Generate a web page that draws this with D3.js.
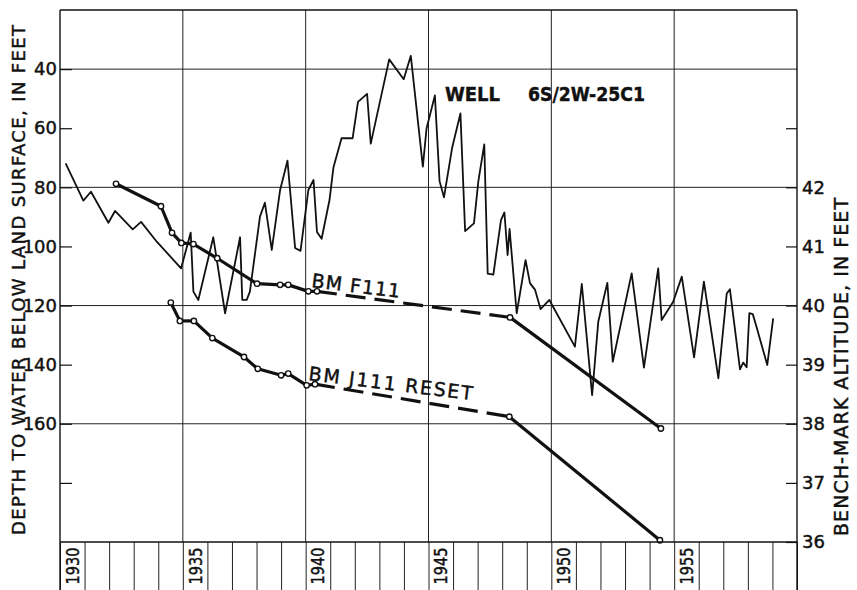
<!DOCTYPE html>
<html>
<head>
<meta charset="utf-8">
<script src="https://cdn.jsdelivr.net/npm/d3@7"></script>
<style>
  html, body { margin: 0; padding: 0; background: #fff; }
  svg { display: block; }
  text { font-family: "DejaVu Sans", "Liberation Sans", sans-serif; fill: #111; stroke: #111; stroke-width: 0.45; }
</style>
</head>
<body>
<svg id="chart" width="857" height="590"></svg>
<script>
// Well 6S/2W-25C1: decimal year and depth to water below land surface (feet)
const wellYears = [
  1930.23, 1930.95, 1931.26, 1931.97, 1932.24, 1932.96, 1933.30, 1933.94, 1934.93,
  1935.32, 1935.43, 1935.63, 1936.24, 1936.72, 1937.33, 1937.42, 1937.60, 1937.73,
  1938.14, 1938.34, 1938.62, 1938.96, 1939.26, 1939.57, 1939.79, 1940.11, 1940.32,
  1940.46, 1940.65, 1940.97, 1941.13, 1941.46, 1941.91, 1942.13, 1942.50, 1942.65,
  1943.40, 1943.99, 1944.28, 1944.77, 1944.92, 1945.26, 1945.45, 1945.63, 1945.96,
  1946.30, 1946.49, 1946.85, 1947.03, 1947.27, 1947.41, 1947.64, 1947.95, 1948.09,
  1948.22, 1948.30, 1948.59, 1948.95, 1949.13, 1949.34, 1949.56, 1949.92, 1950.07,
  1950.96, 1951.24, 1951.66, 1951.91, 1952.28, 1952.50, 1953.27, 1953.77, 1954.35,
  1954.49, 1954.96, 1955.31, 1955.81, 1956.21, 1956.80, 1957.14, 1957.27, 1957.68,
  1957.81, 1957.95, 1958.06, 1958.20, 1958.33, 1958.79, 1959.03
];
const wellDepths = [
  71.9, 84.5, 81.5, 92.0, 88.0, 94.2, 91.7, 98.4, 107.4,
  95.3, 115.3, 118.1, 96.9, 122.6, 96.9, 118.1, 118.1, 115.3,
  89.9, 85.2, 101.2, 80.9, 71.0, 100.5, 101.5, 80.9, 77.5,
  95.1, 97.4, 84.3, 73.3, 63.4, 63.4, 51.1, 48.4, 65.2,
  36.7, 43.4, 35.5, 73.0, 60.1, 48.9, 77.9, 83.4, 66.7,
  55.0, 94.8, 92.2, 77.9, 65.5, 109.2, 109.5, 91.1, 88.5,
  102.9, 94.1, 122.6, 104.6, 112.4, 114.7, 121.2, 118.1, 120.4,
  133.9, 112.7, 150.3, 125.5, 112.3, 139.0, 109.1, 141.0, 107.4,
  124.9, 118.7, 110.2, 137.5, 111.9, 144.6, 115.9, 114.5, 141.6,
  139.3, 140.9, 122.6, 122.9, 126.6, 140.1, 124.3
];

// Bench mark F111: survey dates, altitude (feet), and which links are dashed
const bmF111Years  = [1932.28, 1934.11, 1934.56, 1934.94, 1935.43, 1936.40, 1938.02, 1938.96, 1939.29, 1940.11, 1940.46, 1948.32, 1954.46];
const bmF111Alt    = [42.06, 41.68, 41.23, 41.06, 41.04, 40.80, 40.37, 40.35, 40.35, 40.24, 40.24, 39.80, 37.92];
const bmF111Dashed = [false, false, false, false, false, false, false, false, false, false, true, false];

// Bench mark J111 reset: survey dates, altitude (feet), and which links are dashed
const bmJ111Years  = [1934.51, 1934.88, 1935.45, 1936.20, 1937.49, 1938.05, 1939.00, 1939.29, 1940.04, 1940.38, 1948.29, 1954.42];
const bmJ111Alt    = [40.05, 39.74, 39.74, 39.45, 39.13, 38.93, 38.82, 38.85, 38.65, 38.67, 38.12, 36.03];
const bmJ111Dashed = [false, false, false, false, false, false, false, false, false, true, false];

// Axis ticks and labels
const depthTicks  = [40, 60, 80, 100, 120, 140, 160, 180];
const depthLabels = ["40", "60", "80", "100", "120", "140", "160", ""];
const depthGrid   = [40, 80, 120, 160];
const altTicks    = [36, 37, 38, 39, 40, 41, 42, 43];
const altLabels   = ["36", "37", "38", "39", "40", "41", "42", ""];
const yearGrid    = [1935, 1940, 1945, 1950, 1955];
const yearTicks   = d3.range(1930, 1961);
const yearLabels  = [1930, 1935, 1940, 1945, 1950, 1955];

// Layout
const plotL = 60, plotR = 797, plotT = 10, plotB = 542, stripB = 590;
const ink = "#111";

const x = d3.scaleLinear().domain([1930, 1960]).range([plotL, plotR]);
const yDepth = d3.scaleLinear().domain([20, 200]).range([plotT, plotB]);
const yAlt = d3.scaleLinear().domain([36, 45]).range([plotB, plotT]);

const svg = d3.select("#chart");
svg.append("rect").attr("width", 857).attr("height", 590).attr("fill", "#fff");

// Grid lines
svg.append("g").selectAll("line").data(depthGrid).join("line")
  .attr("x1", plotL).attr("x2", plotR)
  .attr("y1", d => yDepth(d)).attr("y2", d => yDepth(d))
  .attr("stroke", "#222").attr("stroke-width", 1);
svg.append("g").selectAll("line").data(yearGrid).join("line")
  .attr("x1", d => x(d)).attr("x2", d => x(d))
  .attr("y1", plotT).attr("y2", plotB)
  .attr("stroke", "#222").attr("stroke-width", 1);

// Year strip below the plot
const stripAxis = d3.axisBottom(x).tickValues(yearTicks)
  .tickSize(stripB - plotB).tickFormat("");
svg.append("g").attr("transform", `translate(0,${plotB})`).call(stripAxis)
  .call(g => g.select(".domain").remove())
  .call(g => g.selectAll("line").attr("stroke", "#222").attr("stroke-width", 1));
svg.append("g").selectAll("text").data(yearLabels).join("text")
  .attr("transform", d => `translate(${x(d + 0.5)},566) rotate(-90)`)
  .attr("text-anchor", "middle").attr("dy", "0.36em")
  .attr("font-size", 18).attr("textLength", 37).attr("lengthAdjust", "spacingAndGlyphs")
  .text(d => d);

// Left depth axis (ticks point inward)
const leftAxis = d3.axisLeft(yDepth).tickValues(depthTicks)
  .tickSize(-12).tickPadding(3).tickFormat((d, i) => depthLabels[i]);
svg.append("g").attr("transform", `translate(${plotL},0)`).call(leftAxis)
  .call(g => g.select(".domain").remove())
  .call(g => g.selectAll("line").attr("stroke", ink).attr("stroke-width", 1.2))
  .call(g => g.selectAll("text").attr("font-size", 18).attr("fill", ink)
    .attr("font-family", "DejaVu Sans, sans-serif"));

// Right bench-mark altitude axis
const rightAxis = d3.axisRight(yAlt).tickValues(altTicks)
  .tickSize(-11).tickPadding(5).tickFormat((d, i) => altLabels[i]);
svg.append("g").attr("transform", `translate(${plotR},0)`).call(rightAxis)
  .call(g => g.select(".domain").remove())
  .call(g => g.selectAll("line").attr("stroke", ink).attr("stroke-width", 1.2))
  .call(g => g.selectAll("text").attr("font-size", 18).attr("fill", ink)
    .attr("font-family", "DejaVu Sans, sans-serif"));

// Axis titles
svg.append("text")
  .attr("transform", "translate(25,280) rotate(-90)")
  .attr("text-anchor", "middle").attr("font-size", 18)
  .attr("textLength", 510).attr("lengthAdjust", "spacing")
  .text("DEPTH TO WATER BELOW LAND SURFACE, IN FEET");
svg.append("text")
  .attr("transform", "translate(848,367) rotate(-90)")
  .attr("text-anchor", "middle").attr("font-size", 19)
  .attr("textLength", 338).attr("lengthAdjust", "spacing")
  .text("BENCH-MARK ALTITUDE, IN FEET");

// Well hydrograph
const wellData = wellYears.map((t, i) => [t, wellDepths[i]]);
svg.append("path").datum(wellData)
  .attr("d", d3.line().x(d => x(d[0])).y(d => yDepth(d[1])))
  .attr("fill", "none").attr("stroke", ink).attr("stroke-width", 1.8)
  .attr("stroke-linejoin", "round");

// Bench-mark altitude lines; unsurveyed intervals are dashed
function drawBenchMark(years, alts, dashed) {
  const pts = years.map((t, i) => [t, alts[i]]);
  const segs = d3.pairs(pts).map((s, i) => ({ a: s[0], b: s[1], dashed: dashed[i] }));
  const g = svg.append("g");
  g.selectAll("line").data(segs).join("line")
    .attr("x1", d => x(d.a[0])).attr("y1", d => yAlt(d.a[1]))
    .attr("x2", d => x(d.b[0])).attr("y2", d => yAlt(d.b[1]))
    .attr("stroke", ink).attr("stroke-width", 3.2)
    .attr("stroke-dasharray", d => (d.dashed ? "20,9" : null));
  g.selectAll("circle").data(pts).join("circle")
    .attr("cx", d => x(d[0])).attr("cy", d => yAlt(d[1])).attr("r", 2.7)
    .attr("fill", "#fff").attr("stroke", ink).attr("stroke-width", 1.4);
}
drawBenchMark(bmF111Years, bmF111Alt, bmF111Dashed);
drawBenchMark(bmJ111Years, bmJ111Alt, bmJ111Dashed);

// Annotations
svg.append("text").attr("x", 445).attr("y", 101)
  .attr("font-size", 20).attr("font-weight", "bold")
  .attr("textLength", 55).attr("lengthAdjust", "spacingAndGlyphs")
  .text("WELL");
svg.append("text").attr("x", 528).attr("y", 101)
  .attr("font-size", 20).attr("font-weight", "bold")
  .attr("textLength", 117).attr("lengthAdjust", "spacingAndGlyphs")
  .text("6S/2W-25C1");
svg.append("text")
  .attr("transform", "translate(311,287) rotate(7)")
  .attr("font-size", 19).attr("textLength", 89).attr("lengthAdjust", "spacing")
  .text("BM F111");
svg.append("text")
  .attr("transform", "translate(308,380) rotate(7)")
  .attr("font-size", 19).attr("textLength", 165).attr("lengthAdjust", "spacing")
  .text("BM J111 RESET");

// Frame: plot border, extended down through the year strip
svg.append("line").attr("x1", plotL).attr("x2", plotR).attr("y1", plotT).attr("y2", plotT)
  .attr("stroke", ink).attr("stroke-width", 1.4);
svg.append("line").attr("x1", plotL).attr("x2", plotR).attr("y1", plotB).attr("y2", plotB)
  .attr("stroke", ink).attr("stroke-width", 1.4);
svg.append("line").attr("x1", plotL).attr("x2", plotL).attr("y1", plotT).attr("y2", stripB)
  .attr("stroke", ink).attr("stroke-width", 1.4);
svg.append("line").attr("x1", plotR).attr("x2", plotR).attr("y1", plotT).attr("y2", stripB)
  .attr("stroke", ink).attr("stroke-width", 1.4);
</script>
</body>
</html>
